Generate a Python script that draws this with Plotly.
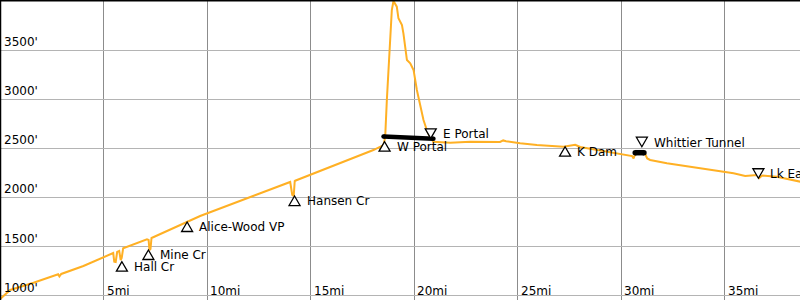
import plotly.graph_objects as go

# Elevation profile (miles, feet)
profile_mi = [0.00, 0.48, 1.61, 2.80, 2.86, 2.95, 4.02, 5.31, 5.46, 5.51, 5.58, 5.65, 5.75, 5.82, 5.87, 5.94,
              7.09, 7.17, 7.21, 7.26, 7.31, 9.66, 14.01, 14.11, 14.18, 14.23, 14.25, 18.03, 18.52, 18.57,
              18.60, 18.68, 18.76, 18.84, 18.92, 19.00, 19.16, 19.24, 19.41, 19.48, 19.57, 19.65, 19.81,
              19.97, 20.13, 20.29, 20.45, 20.61, 20.74, 20.93, 21.74, 22.71, 24.15, 24.30, 24.44, 25.12,
              25.93, 27.21, 27.78, 28.02, 28.99, 29.71, 30.19, 30.53, 30.60, 30.68, 31.16, 31.26, 31.40,
              32.21, 33.82, 35.43, 35.99, 36.56, 36.67, 36.81, 37.52, 38.65]
profile_ft = [966, 1058, 1132, 1218, 1196, 1221, 1302, 1424, 1434, 1346, 1343, 1445, 1455, 1363, 1383, 1482,
              1574, 1567, 1465, 1475, 1587, 1811, 2157, 2025, 2014, 2167, 2170, 2482, 2533, 2584,
              2618, 2991, 3330, 3670, 3907, 3999, 3941, 3823, 3754, 3670, 3500, 3398, 3365,
              3297, 3093, 2923, 2788, 2686, 2625, 2567, 2557, 2567, 2564, 2580, 2572, 2551,
              2533, 2516, 2536, 2513, 2477, 2452, 2427, 2421, 2396, 2442, 2442, 2396, 2381,
              2347, 2296, 2245, 2218, 2228, 2198, 2223, 2211, 2160]

# Tunnels (start/end miles and elevations)
tunnel1_mi = [18.52, 20.93]
tunnel1_ft = [2619, 2597]
tunnel2_mi = [30.68, 31.10]
tunnel2_ft = [2455, 2455]

# Waypoints
wp_names = ["Hall Cr", "Mine Cr", "Alice-Wood VP", "Hansen Cr", "W Portal", "E Portal",
            "K Dam", "Whittier Tunnel", "Lk Easton"]
wp_mi = [5.88, 7.16, 9.03, 14.22, 18.57, 20.80, 27.29, 31.00, 36.63]
wp_ft = [1346, 1465, 1750, 2014, 2567, 2600, 2516, 2516, 2195]
wp_dir = ["up", "up", "up", "up", "up", "down", "up", "down", "down"]

# Tick labels
x_ticks = [5, 10, 15, 20, 25, 30, 35]
x_tick_labels = ["5mi", "10mi", "15mi", "20mi", "25mi", "30mi", "35mi"]
y_ticks = [1000, 1500, 2000, 2500, 3000, 3500]
y_tick_labels = ["1000'", "1500'", "2000'", "2500'", "3000'", "3500'"]

FONT = dict(family="DejaVu Sans", size=12, color="black")

fig = go.Figure()
fig.add_trace(go.Scatter(x=profile_mi, y=profile_ft, mode="lines",
                         line=dict(color="#FFB024", width=2), hoverinfo="skip"))
fig.add_trace(go.Scatter(x=tunnel1_mi, y=tunnel1_ft, mode="lines+markers",
                         line=dict(color="black", width=4.5),
                         marker=dict(color="black", size=4.5, line=dict(width=0)), hoverinfo="skip"))
fig.add_trace(go.Scatter(x=tunnel2_mi, y=tunnel2_ft, mode="lines+markers",
                         line=dict(color="black", width=5.5),
                         marker=dict(color="black", size=5.5, line=dict(width=0)), hoverinfo="skip"))

shapes = []
annotations = []
for name, m, e, d in zip(wp_names, wp_mi, wp_ft, wp_dir):
    if d == "up":
        path = "M0,0 L-5.5,-9.5 L5.5,-9.5 Z"
        ys = -5
    else:
        path = "M0,0 L-5.5,9.5 L5.5,9.5 Z"
        ys = 4
    shapes.append(dict(type="path", xref="x", yref="y", xsizemode="pixel", ysizemode="pixel",
                       xanchor=m, yanchor=e, path=path, layer="above",
                       line=dict(color="black", width=1.3), fillcolor="white"))
    annotations.append(dict(x=m, y=e, xref="x", yref="y", text=name, showarrow=False,
                            xanchor="left", yanchor="middle", xshift=10, yshift=ys, font=FONT))

for v, t in zip(x_ticks, x_tick_labels):
    annotations.append(dict(x=v, y=0, xref="x", yref="paper", text=t, showarrow=False,
                            xanchor="left", yanchor="bottom", xshift=1, yshift=0, font=FONT))
for v, t in zip(y_ticks, y_tick_labels):
    annotations.append(dict(x=0, y=v, xref="paper", yref="y", text=t, showarrow=False,
                            xanchor="left", yanchor="bottom", xshift=1.5, yshift=-1, font=FONT))

# frame lines top and left
shapes.append(dict(type="line", xref="paper", yref="paper", x0=0, x1=1, y0=1, y1=1,
                   line=dict(color="black", width=3), layer="above"))
shapes.append(dict(type="line", xref="paper", yref="paper", x0=0, x1=0, y0=0, y1=1,
                   line=dict(color="black", width=2.5), layer="above"))

fig.update_layout(
    width=800, height=300, margin=dict(l=0, r=0, t=0, b=0),
    paper_bgcolor="white", plot_bgcolor="white", showlegend=False,
    shapes=shapes, annotations=annotations, font=FONT,
    xaxis=dict(range=[-0.0097, 38.64], dtick=5, tick0=0, showgrid=True, gridcolor="#8c8c8c",
               gridwidth=1, zeroline=False, showticklabels=False, fixedrange=True),
    yaxis=dict(range=[956, 4009], dtick=500, tick0=0, showgrid=True, gridcolor="#b4b4b4",
               gridwidth=1, zeroline=False, showticklabels=False, fixedrange=True),
)
fig.write_html("out.html")
